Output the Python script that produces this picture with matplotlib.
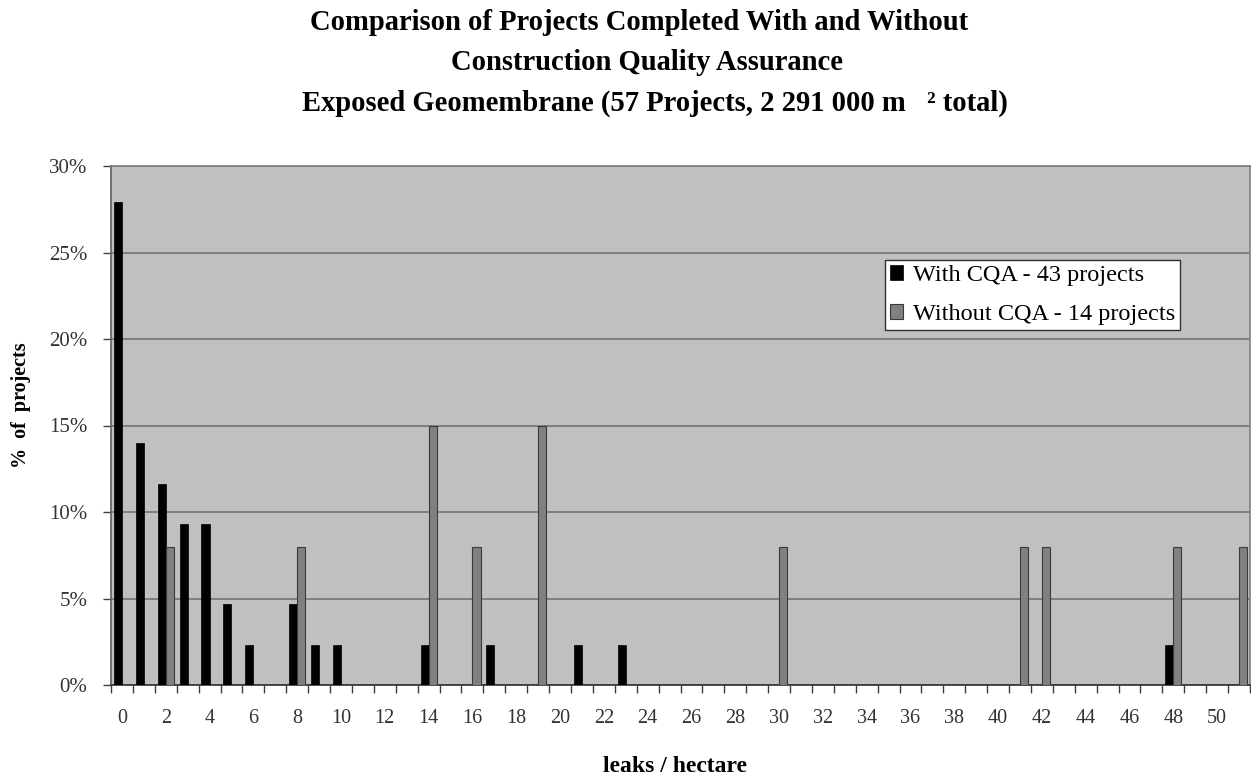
import numpy as np
import matplotlib
matplotlib.use("Agg")
import matplotlib.pyplot as plt

plt.rcParams['font.family'] = ['Liberation Serif', 'DejaVu Serif']

# ---- data ----
categories = list(range(52))                       # leaks / hectare categories 0..51
tick_labels = [str(c) for c in range(0, 52, 2)]

with_cqa_leaks = [0, 1, 2, 3, 4, 5, 6, 8, 9, 10, 14, 17, 21, 23, 48]
with_cqa_pct = [27.9, 14.0, 11.6, 9.3, 9.3, 4.7, 2.3, 4.7, 2.3, 2.3, 2.3, 2.3, 2.3, 2.3, 2.3]

without_cqa_leaks = [2, 8, 14, 16, 19, 30, 41, 42, 48, 51]
without_cqa_pct = [8, 8, 15, 8, 15, 8, 8, 8, 8, 8]

series_names = ["With CQA - 43 projects", "Without CQA - 14 projects"]
y_ticks = [0, 5, 10, 15, 20, 25, 30]

title_lines = ["Comparison of Projects Completed With and Without",
               "Construction Quality Assurance",
               "Exposed Geomembrane (57 Projects, 2 291 000 m   \u00b2 total)"]

# ---- figure ----
W, H = 1251, 778
fig = plt.figure(figsize=(W / 100, H / 100), dpi=100)
fig.patch.set_facecolor('white')
L, R, T, B = 111, 1250, 166, 685
ax = fig.add_axes([L / W, 1 - B / H, (R - L) / W, (B - T) / H])
ax.set_facecolor('#C0C0C0')

bw = 0.37
ax.bar(np.array(with_cqa_leaks) - bw / 2, with_cqa_pct, width=bw, color='black',
       edgecolor='black', linewidth=0.5, zorder=3, label=series_names[0])
ax.bar(np.array(without_cqa_leaks) + bw / 2, without_cqa_pct, width=bw, color='#808080',
       edgecolor='#3a3a3a', linewidth=0.8, zorder=3, label=series_names[1])

ax.set_xlim(categories[0] - 0.5, categories[-1] + 0.5)
ax.set_ylim(0, 30)

ax.set_yticks(y_ticks)
ax.set_yticklabels([f"{v}%" for v in y_ticks], fontsize=15, color='#333333')
ax.yaxis.grid(True, color='#7a7a7a', linewidth=1.3)
ax.set_axisbelow(True)

ax.set_xticks(range(0, 52, 2))
ax.set_xticklabels(tick_labels, fontsize=14.5, color='#333333')
ax.set_xticks(np.arange(categories[0] - 0.5, categories[-1] + 1, 1), minor=True)
ax.tick_params(axis='x', which='major', length=0, pad=17)
ax.tick_params(axis='x', which='minor', length=6, width=1, color='#404040', direction='out')
ax.tick_params(axis='y', which='major', length=6, width=1, color='#404040', direction='out', pad=11)

for side in ['top', 'right']:
    ax.spines[side].set_color('#808080')
    ax.spines[side].set_linewidth(1.2)
ax.spines['left'].set_color('#606060')
ax.spines['bottom'].set_color('#303030')
ax.spines['left'].set_linewidth(1.2)
ax.spines['bottom'].set_linewidth(1.2)

fig.text(21 / W, 1 - 405 / H, "%  of  projects", rotation=90, ha='center', va='center',
         fontsize=14.5, fontweight='bold')
fig.text(675 / W, 1 - 766 / H, "leaks / hectare", ha='center', va='center',
         fontsize=17, fontweight='bold')

fig.text(639 / W, 1 - 22 / H, title_lines[0], ha='center', va='center', fontsize=20.6, fontweight='bold')
fig.text(647 / W, 1 - 62 / H, title_lines[1], ha='center', va='center', fontsize=20.6, fontweight='bold')
fig.text(655 / W, 1 - 103 / H, title_lines[2], ha='center', va='center', fontsize=20.6, fontweight='bold')

leg = ax.legend(loc='upper left', bbox_to_anchor=(885 / W, 1 - 260 / H),
                bbox_transform=fig.transFigure, borderaxespad=0, fontsize=17.5,
                fancybox=False, framealpha=1, edgecolor='#303030',
                handlelength=0.55, handleheight=0.55, handletextpad=0.4,
                labelspacing=0.75, borderpad=0.2)
leg.get_frame().set_linewidth(1.0)

fig.savefig("out.png", dpi=100)
